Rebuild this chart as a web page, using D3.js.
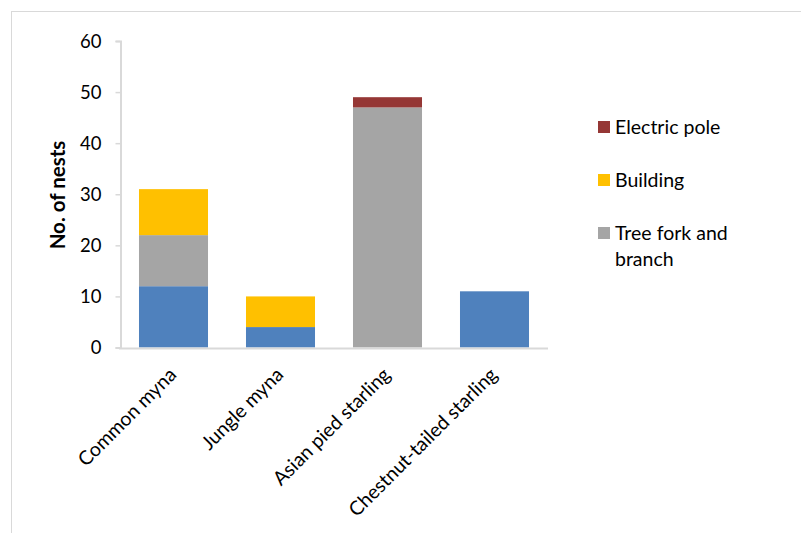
<!DOCTYPE html>
<html><head><meta charset="utf-8">
<script src="https://cdn.jsdelivr.net/npm/d3@7"></script>
<style>body{margin:0;background:#fff}svg{display:block}text{font-family:Lato,"Open Sans",sans-serif;fill:#000}</style>
</head><body><svg width="801" height="533"></svg>
<script>
const categories = ["Common myna","Jungle myna","Asian pied starling","Chestnut-tailed starling"];
const seriesNames = ["Cavity","Tree fork and branch","Building","Electric pole"];
const cavity = [12,4,0,11];
const treeFork = [10,0,47,0];
const building = [9,6,0,0];
const electricPole = [0,0,2,0];
const yTicks = [0,10,20,30,40,50,60];
const colors = {"Cavity":"#4F81BD","Tree fork and branch":"#A5A5A5","Building":"#FFC000","Electric pole":"#953735"};
const legendItems = ["Electric pole","Building","Tree fork and branch"];

const svg = d3.select("svg");
svg.append("rect").attr("x",11.5).attr("y",11.5).attr("width",1000).attr("height",1000)
  .attr("fill","none").attr("stroke","#d9d9d9");

const x = d3.scaleBand().domain(categories).range([120,548]).paddingInner(0.355).paddingOuter(0.1775);
const y = d3.scaleLinear().domain([0,60]).range([347.5,41]);

const rows = categories.map((c,i)=>({cat:c,"Cavity":cavity[i],"Tree fork and branch":treeFork[i],"Building":building[i],"Electric pole":electricPole[i]}));
const stacked = d3.stack().keys(seriesNames)(rows);

svg.append("g").selectAll("g").data(stacked).join("g")
  .attr("fill",d=>colors[d.key])
  .selectAll("rect").data(d=>d).join("rect")
  .attr("x",d=>x(d.data.cat)).attr("width",x.bandwidth())
  .attr("y",d=>y(d[1])).attr("height",d=>y(d[0])-y(d[1]));

// y axis
const ya = svg.append("g").attr("transform","translate(120.5,0)")
  .call(d3.axisLeft(y).tickValues(yTicks).tickSize(5).tickPadding(14));
ya.select(".domain").attr("stroke","#d9d9d9").attr("stroke-width",2);
ya.selectAll(".tick line").attr("stroke","#d9d9d9").attr("stroke-width",1.5);
ya.selectAll("text").style("font-size","18.5px").attr("dy","0.35em");

// x axis line
svg.append("line").attr("x1",119).attr("x2",548).attr("y1",348.5).attr("y2",348.5)
  .attr("stroke","#d9d9d9").attr("stroke-width",2);

// x labels
svg.append("g").selectAll("text").data(categories).join("text")
  .attr("transform",d=>`translate(${x(d)+x.bandwidth()/2+4},${376}) rotate(-45)`)
  .attr("text-anchor","end").style("font-size","19.5px").text(d=>d);

// y title
svg.append("text").attr("transform","translate(65,195) rotate(-90)")
  .attr("text-anchor","middle").style("font-size","20.5px").style("font-weight","bold").text("No. of nests");

// legend
const lg = svg.append("g");
const ly = [121,174,227];
legendItems.forEach((k,i)=>{
  lg.append("rect").attr("x",598).attr("y",ly[i]).attr("width",12).attr("height",12).attr("fill",colors[k]);
  const t = lg.append("text").attr("x",615).attr("y",ly[i]+12.5).style("font-size","19.5px");
  if(k==="Tree fork and branch"){
    t.append("tspan").attr("x",615).text("Tree fork and");
    t.append("tspan").attr("x",615).attr("dy",26).text("branch");
  } else t.text(k);
});
</script></body></html>
